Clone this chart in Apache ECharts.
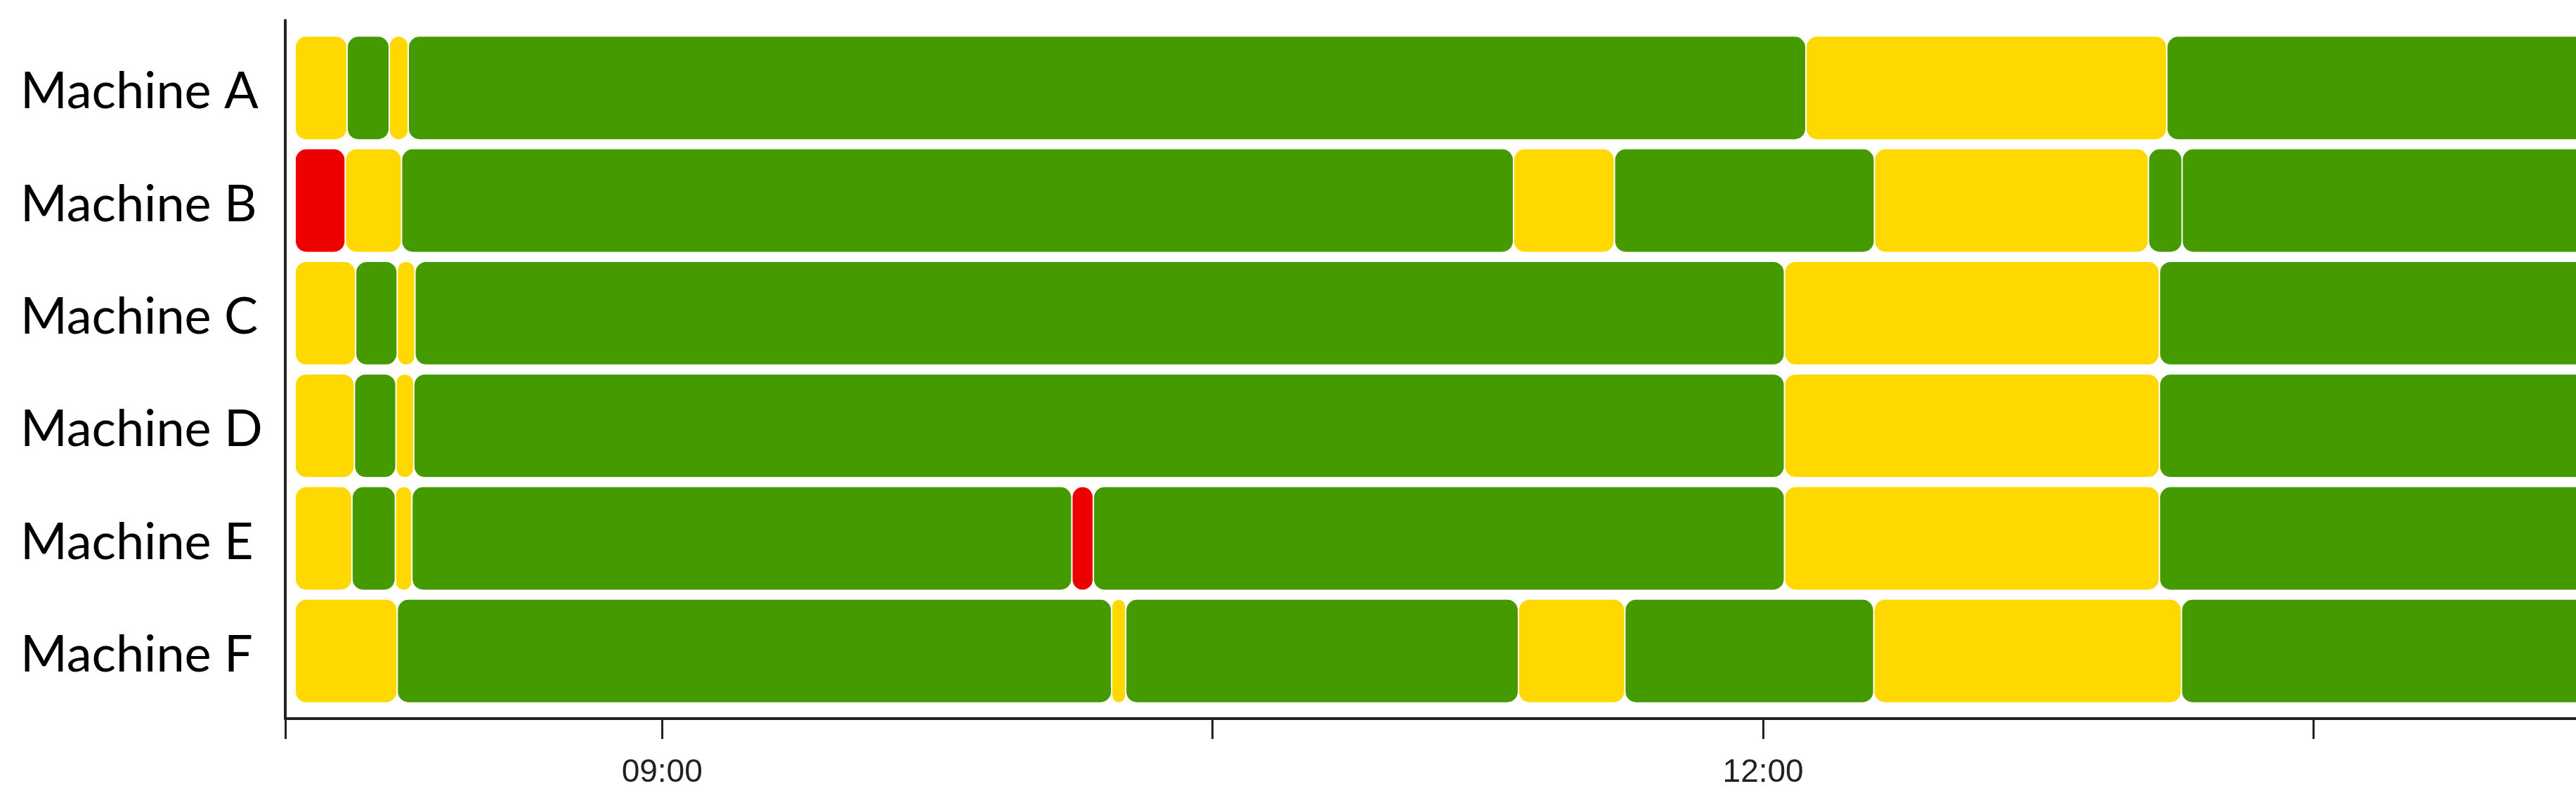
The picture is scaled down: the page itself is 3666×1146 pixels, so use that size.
<!DOCTYPE html>
<html lang="en">
<head>
    <meta charset="UTF-8">
    <title>Machine status timeline</title>
    <script src="https://cdn.jsdelivr.net/npm/echarts@6/dist/echarts.min.js"></script>
    <style>
        html, body { margin: 0; padding: 0; background: #fff; }
        #chart { width: 3666px; height: 1146px; }
    </style>
</head>
<body>
    <div id="chart"></div>
    <script>
        // rows, top to bottom
        var machines = ['Machine A', 'Machine B', 'Machine C', 'Machine D', 'Machine E', 'Machine F'];

        // state change times for each machine (last one runs past the right edge)
        var timesA = ['08:00', '08:08:30', '08:15:24', '08:18:30', '12:07:00', '13:06:00', '14:30'];
        var statesA = ['idle', 'run', 'idle', 'run', 'idle', 'run'];

        var timesB = ['08:00', '08:08:12', '08:17:24', '11:19:12', '11:35:42', '12:18:12', '13:03:00', '13:08:30', '14:30'];
        var statesB = ['down', 'idle', 'run', 'idle', 'run', 'idle', 'run', 'run'];

        var timesC = ['08:00', '08:09:54', '08:16:42', '08:19:36', '12:03:30', '13:04:48', '14:30'];
        var statesC = ['idle', 'run', 'idle', 'run', 'idle', 'run'];

        var timesD = ['08:00', '08:09:42', '08:16:30', '08:19:24', '12:03:30', '13:04:48', '14:30'];
        var statesD = ['idle', 'run', 'idle', 'run', 'idle', 'run'];

        var timesE = ['08:00', '08:09:18', '08:16:24', '08:19:06', '10:07:00', '10:10:30', '12:03:30', '13:04:48', '14:30'];
        var statesE = ['idle', 'run', 'idle', 'run', 'down', 'run', 'idle', 'run'];

        var timesF = ['08:00', '08:16:42', '10:13:30', '10:15:48', '11:20:00', '11:37:24', '12:18:06', '13:08:24', '14:30'];
        var statesF = ['idle', 'run', 'idle', 'run', 'idle', 'run', 'idle', 'run'];

        // x axis: visible window, ticks every 90 min, labels every 3 h
        var axisStart = '07:58:24';
        var axisEnd = '14:12:54';
        var tickTimes = ['09:00', '10:30', '12:00', '13:30'];
        var labelTimes = ['09:00', '12:00'];

        var stateColors = { run: '#459A00', idle: '#FFD800', down: '#EC0000' };

        function toMin(s) {
            var p = s.split(':').map(Number);
            return p[0] * 60 + p[1] + (p[2] || 0) / 60;
        }
        function fmt(v) {
            var h = Math.floor(v / 60 + 1e-6), m = Math.round(v - h * 60);
            return (h < 10 ? '0' : '') + h + ':' + (m < 10 ? '0' : '') + m;
        }

        var allTimes = [timesA, timesB, timesC, timesD, timesE, timesF];
        var allStates = [statesA, statesB, statesC, statesD, statesE, statesF];

        var data = [];
        allTimes.forEach(function (times, row) {
            var states = allStates[row];
            for (var i = 0; i < states.length; i++) {
                data.push({
                    value: [toMin(times[i]), toMin(times[i + 1]), row],
                    itemStyle: { color: stateColors[states[i]] }
                });
            }
        });

        var xMin = toMin(axisStart);
        var chart = echarts.init(document.getElementById('chart'));

        chart.setOption({
            animation: false,
            grid: { left: 406, right: 0, top: 29, bottom: 123 },
            xAxis: {
                type: 'value',
                min: xMin,
                max: toMin(axisEnd),
                splitLine: { show: false },
                axisLine: { show: true, onZero: false, lineStyle: { color: '#222', width: 4 } },
                axisTick: {
                    show: true,
                    length: 29,
                    lineStyle: { color: '#222', width: 3 },
                    customValues: [xMin].concat(tickTimes.map(toMin))
                },
                axisLabel: {
                    customValues: labelTimes.map(toMin),
                    formatter: fmt,
                    fontFamily: 'Liberation Sans',
                    fontSize: 46,
                    color: '#222',
                    margin: 54
                }
            },
            yAxis: {
                type: 'value',
                inverse: true,
                min: -0.6,
                max: 5.6,
                splitLine: { show: false },
                axisLine: { show: true, onZero: false, lineStyle: { color: '#222', width: 4 } },
                axisTick: { show: false },
                axisLabel: {
                    customValues: machines.map(function (m, i) { return i; }),
                    formatter: function (v) {
                        var name = machines[Math.round(v)];
                        return name ? '{m|' + name + '}' : '';
                    },
                    align: 'left',
                    margin: 377,
                    rich: {
                        m: {
                            fontFamily: 'Lato',
                            fontSize: 72,
                            color: '#000',
                            padding: [12, 0, 0, 0]
                        }
                    }
                }
            },
            series: [{
                type: 'custom',
                clip: true,
                encode: { x: [0, 1], y: 2 },
                data: data,
                renderItem: function (params, api) {
                    var p0 = api.coord([api.value(0), api.value(2)]);
                    var p1 = api.coord([api.value(1), api.value(2)]);
                    var h = api.size([0, 1])[1] * 0.91;
                    var w = Math.max(p1[0] - p0[0] - 2, 1);
                    return {
                        type: 'rect',
                        shape: { x: p0[0] + 1, y: p0[1] - h / 2, width: w, height: h, r: Math.min(15, w / 2) },
                        style: api.style()
                    };
                }
            }]
        });
    </script>
</body>
</html>
